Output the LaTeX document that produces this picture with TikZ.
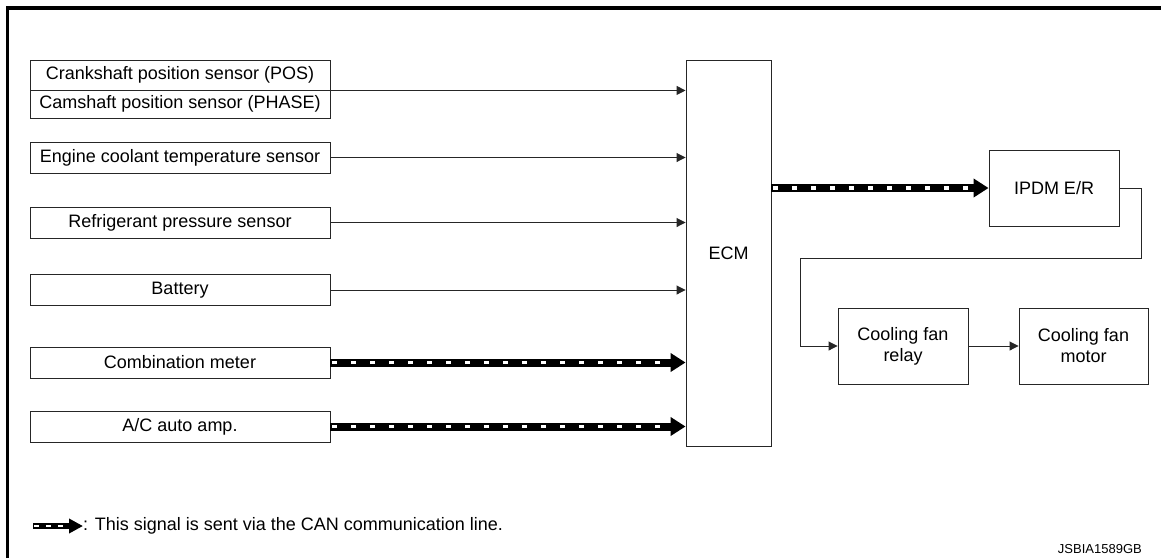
\documentclass[tikz,border=0pt]{standalone}
\usepackage{fontspec}
\setmainfont{Liberation Sans}
\usetikzlibrary{arrows.meta}

\tikzset{
  unit/.style={draw=black!85, line width=0.9pt, inner sep=0pt, align=center,
               font=\fontsize{18}{21}\selectfont},
  sensor/.style={unit, minimum width=300pt, minimum height=31pt},
  sig/.style={draw=black!85, line width=0.9pt, -{Triangle[length=9pt,width=9pt]}},
  can/.style={line width=8pt, -{Triangle[length=15pt,width=18pt]},
              postaction={draw=white, -, line width=3.5pt,
                          dash pattern=on 5pt off 14pt, shorten <=2pt, shorten >=17pt}},
  cankey/.style={line width=6pt, -{Triangle[length=14pt,width=14pt]},
                 postaction={draw=white, -, line width=2.5pt,
                             dash pattern=on 5pt off 7pt, shorten <=1pt, shorten >=15pt}}
}

\begin{document}
\begin{tikzpicture}[x=1pt, y=-1pt]
    % Page size
    \useasboundingbox (0,0) rectangle (1161,558);

    % Outer frame, open at the right and at the bottom
    \draw[line width=3.5pt] (7.5,558) -- (7.5,8) -- (1161,8);

    % Input side
    \node[sensor, minimum height=30pt] (crank) at (180,75) {Crankshaft position sensor (POS)};
    \node[sensor, minimum height=28pt] (cam) at (180,104) {Camshaft position sensor (PHASE)};
    \node[sensor] (ect) at (180,157.5) {Engine coolant temperature sensor};
    \node[sensor] (refr) at (180,222.5) {Refrigerant pressure sensor};
    \node[sensor] (batt) at (180,290) {Battery};
    \node[sensor] (meter) at (180,362.5) {Combination meter};
    \node[sensor] (acamp) at (180,426.5) {A/C auto amp.};

    % Control unit
    \node[unit, minimum width=85pt, minimum height=386pt] (ecm) at (728.5,253) {ECM};

    % Output side
    \node[unit, minimum width=130pt, minimum height=76pt] (ipdm) at (1054,188) {IPDM E/R};
    \node[unit, minimum width=130pt, minimum height=76pt] (relay) at (903,346) {Cooling fan\\relay};
    \node[unit, minimum width=129pt, minimum height=76pt] (motor) at (1083.5,346) {Cooling fan\\motor};
    \coordinate (bend) at (800,258);

    % Hard wired signals into the ECM
    \draw[sig] (crank.south east) -- (crank.south east -| ecm.west);
    \draw[sig] (ect) -- (ect -| ecm.west);
    \draw[sig] (refr) -- (refr -| ecm.west);
    \draw[sig] (batt) -- (batt -| ecm.west);

    % CAN lines
    \draw[can] (meter) -- (meter -| ecm.west);
    \draw[can] (acamp) -- (acamp -| ecm.west);
    \draw[can] (ipdm.west -| ecm.east) -- (ipdm.west);

    % IPDM E/R drives the relay, relay drives the motor
    \draw[sig] (ipdm.east) -- ++(22,0) |- (bend) |- (relay.west);
    \draw[sig] (relay) -- (motor);

    % Key for the CAN line
    \coordinate (key a) at (33,526);
    \coordinate (key b) at (83,526);
    \draw[cankey] (key a) -- (key b);
    \node[anchor=west, inner sep=0pt, font=\fontsize{18}{21}\selectfont] (keytext) at (key b)
        {: This signal is sent via the CAN communication line.};

    % Drawing code
    \node[anchor=east, inner sep=0pt, font=\fontsize{13}{15}\selectfont] (code) at (1142,549) {JSBIA1589GB};
\end{tikzpicture}
\end{document}
